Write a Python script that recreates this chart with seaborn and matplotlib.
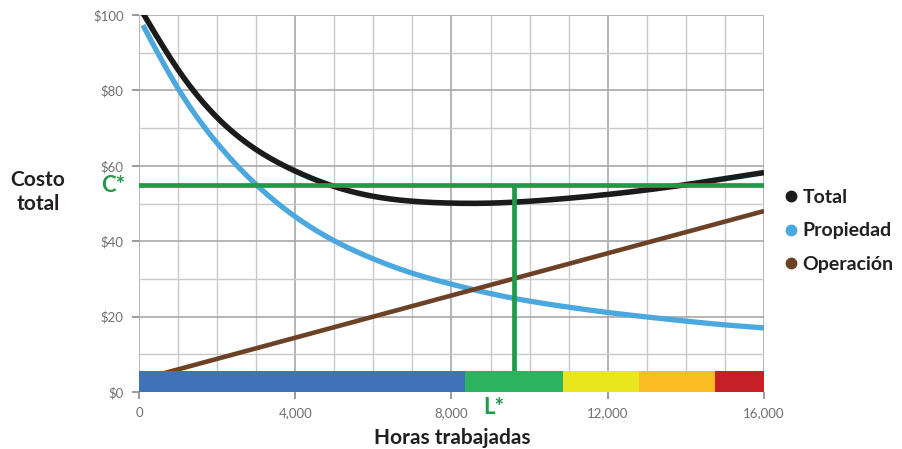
import numpy as np
import pandas as pd
import matplotlib
matplotlib.use("Agg")
import matplotlib.pyplot as plt
from matplotlib.lines import Line2D
from scipy.interpolate import CubicSpline
import seaborn as sns

# Hours worked (x) and cost curves
hours = [100, 1000, 2000, 3000, 4000, 5000, 6000, 7000, 8000, 9000,
         10000, 11000, 12000, 13000, 14000, 15000, 16000]
total = [100.5, 85.5, 72.8, 64.3, 58.6, 54.5, 51.9, 50.6, 50.1, 50.1,
         50.6, 51.4, 52.4, 53.6, 55.0, 56.6, 58.2]
propiedad = [97.3, 80.5, 66.0, 55.0, 46.5, 40.1, 35.3, 31.5, 28.6, 26.1,
             24.1, 22.5, 21.1, 19.9, 18.8, 17.8, 17.0]
operacion_hours = [0, 16000]
operacion = [3.2, 48.0]

# Optimum
c_star = 55
l_star = 9600

# Coloured life band along the bottom
band_starts = [0, 8350, 10850, 12800, 14750]
band_ends = [8350, 10850, 12800, 14750, 16000]
band_colors = ["#3F72B8", "#2BB35E", "#EAE61E", "#FBBC24", "#C62026"]
band_height = 5.6

x_ticks = [0, 4000, 8000, 12000, 16000]
x_tick_labels = ["0", "4,000", "8,000", "12,000", "16,000"]
y_ticks = [0, 20, 40, 60, 80, 100]
y_tick_labels = ["$0", "$20", "$40", "$60", "$80", "$100"]

series_names = ["Total", "Propiedad", "Operación"]
series_colors = ["#1b1b1b", "#4AA8DE", "#6B4226"]
series_widths = [4.0, 3.8, 3.3]
green = "#1E9A48"

sns.set_theme(style="white")
plt.rcParams["font.family"] = ["Lato", "DejaVu Sans"]

fig = plt.figure(figsize=(9.03, 4.49), dpi=100)
ax = fig.add_axes([139 / 903, 57 / 449, 625 / 903, 377 / 449])

df = pd.concat([
    pd.DataFrame({"Horas": hours, "Costo": total, "Serie": "Total"}),
    pd.DataFrame({"Horas": hours, "Costo": propiedad, "Serie": "Propiedad"}),
    pd.DataFrame({"Horas": operacion_hours, "Costo": operacion, "Serie": "Operación"}),
])

for name, color, lw in zip(series_names, series_colors, series_widths):
    sub = df[df["Serie"] == name]
    if name == "Operación":
        xs, ys = sub["Horas"].to_numpy(), sub["Costo"].to_numpy()
    else:
        xs = np.linspace(sub["Horas"].min(), sub["Horas"].max(), 400)
        ys = CubicSpline(sub["Horas"], sub["Costo"], bc_type="natural")(xs)
    sns.lineplot(x=xs, y=ys, ax=ax, color=color, zorder=3)
    line = ax.lines[-1]
    line.set_linewidth(lw)
    line.set_solid_capstyle("butt")

# C* and L* guide lines
ax.axhline(c_star, color=green, linewidth=3.4, zorder=4)
ax.plot([l_star, l_star], [band_height, c_star], color=green, linewidth=3.4,
        zorder=4, solid_capstyle="butt")

# Band
ax.barh([band_height / 2] * len(band_starts),
        [e - s for s, e in zip(band_starts, band_ends)],
        left=band_starts, height=band_height, color=band_colors,
        zorder=5, linewidth=0)

ax.set_xlim(0, 16000)
ax.set_ylim(0, 100)
ax.set_xticks(x_ticks)
ax.set_xticklabels(x_tick_labels)
ax.set_xticks(np.arange(0, 16001, 1000), minor=True)
ax.set_yticks(y_ticks)
ax.set_yticklabels(y_tick_labels)
ax.set_yticks(np.arange(0, 101, 10), minor=True)
ax.grid(which="minor", color="#c9c9cb", linewidth=1.0, zorder=0)
ax.grid(which="major", color="#a8a8aa", linewidth=1.2, zorder=0)
ax.set_axisbelow(True)
for s in ax.spines.values():
    s.set_visible(False)
ax.tick_params(axis="both", which="major", labelsize=9.5, labelcolor="#707070",
               color="#8a8a8a", length=5, width=1.2, pad=6, bottom=True, left=True)
ax.tick_params(axis="both", which="minor", length=0)
ax.set_xlabel("")
ax.set_ylabel("")

text_color = "#231f20"
fig.text(452 / 903, 1 - 438 / 449, "Horas trabajadas", ha="center", va="center",
         fontsize=15, fontweight="bold", color=text_color)
fig.text(38 / 903, 1 - 192 / 449, "Costo\ntotal", ha="center", va="center",
         fontsize=15, fontweight="bold", color=text_color, linespacing=1.3)
fig.text(113 / 903, 1 - 185 / 449, "C*", ha="center", va="center",
         fontsize=16, fontweight="bold", color=green)
fig.text(494 / 903, 1 - 407 / 449, "L*", ha="center", va="center",
         fontsize=16, fontweight="bold", color=green)

handles = [Line2D([], [], ls="none", marker="o", markersize=7.5,
                  markerfacecolor=c, markeredgecolor=c) for c in series_colors]
fig.legend(handles, series_names, loc="center left",
           bbox_to_anchor=(781 / 903, 1 - 231 / 449), frameon=False,
           handletextpad=0.1, labelspacing=0.85,
           handlelength=1.0, borderaxespad=0, borderpad=0,
           prop={"weight": "bold", "size": 14})
for t in fig.legends[0].get_texts():
    t.set_color(text_color)

fig.savefig("out.png", dpi=100)
